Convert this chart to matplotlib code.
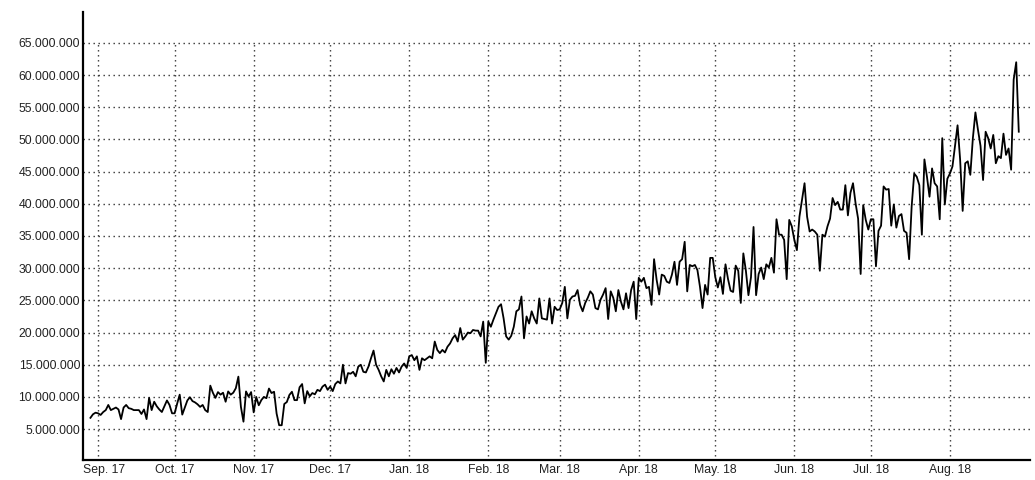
import matplotlib
matplotlib.use("Agg")
import matplotlib.pyplot as plt
import matplotlib.ticker as mticker
import matplotlib.transforms as mtransforms
import pandas as pd

plt.rcParams['font.family'] = ['Liberation Sans', 'DejaVu Sans']

# Daily values in millions
aug17 = [6.75, 7.3, 7.55]
sep17 = [7.45, 7.2, 7.65, 7.95, 8.75, 7.95, 8.15, 8.35, 8.05, 6.55,
         8.35, 8.75, 8.25, 8.15, 7.95, 7.95, 7.95, 7.35, 8.05, 6.55,
         9.85, 7.95, 9.25, 8.55, 8.05, 7.65, 8.55, 9.45, 8.75, 7.45]
oct17 = [7.45, 8.95, 10.35, 7.25, 8.35, 9.45, 9.95, 9.35, 9.15, 8.85,
         8.45, 8.75, 7.95, 7.65, 11.75, 10.65, 9.85, 10.75, 10.35, 10.65,
         9.25, 10.85, 10.35, 10.65, 11.35, 13.15, 8.45, 6.15, 10.85, 10.05,
         10.75]
nov17 = [7.6, 10.0, 8.7, 9.5, 10.0, 9.8, 11.3, 10.6, 10.8, 7.4,
         5.6, 5.6, 8.9, 9.2, 10.3, 10.8, 9.5, 9.5, 11.5, 12.0,
         9.0, 10.9, 10.1, 10.6, 10.4, 11.1, 10.9, 11.6, 11.9, 11.1]
dec17 = [11.6, 10.9, 12.0, 12.4, 12.1, 15.0, 12.1, 13.7, 13.6, 13.9,
         13.2, 14.7, 15.0, 13.9, 13.8, 14.7, 16.0, 17.2, 15.0, 14.2,
         13.2, 12.4, 14.2, 13.2, 14.3, 13.6, 14.5, 13.8, 14.7, 15.2,
         14.5]
jan18 = [16.3, 16.5, 15.7, 16.3, 14.2, 16.0, 15.7, 16.0, 16.3, 16.0,
         18.6, 17.3, 16.8, 17.3, 16.9, 17.8, 18.3, 19.1, 19.6, 18.6,
         20.7, 18.9, 19.4, 20.0, 19.9, 20.4, 20.3, 20.3, 19.4, 21.7,
         15.3]
feb18 = [21.7, 20.9, 22.0, 23.0, 24.0, 24.4, 22.2, 19.4, 18.9, 19.5,
         20.9, 23.3, 23.6, 25.6, 19.1, 22.5, 21.4, 23.3, 22.2, 21.4,
         25.3, 22.2, 22.1, 22.0, 25.3, 21.4, 24.0, 23.5]
mar18 = [23.6, 24.6, 27.1, 22.2, 25.1, 25.6, 25.7, 26.6, 24.3, 23.3,
         24.6, 25.4, 26.4, 25.9, 23.8, 23.6, 25.1, 25.9, 26.9, 22.1,
         26.4, 25.4, 23.3, 26.6, 24.8, 23.6, 26.1, 23.8, 26.6, 27.9,
         22.1]
apr18 = [28.5, 27.9, 28.5, 26.9, 27.1, 24.3, 31.4, 28.2, 25.9, 29.0,
         28.8, 27.9, 27.7, 29.0, 31.0, 27.4, 31.0, 31.4, 34.1, 26.4,
         30.5, 30.3, 30.5, 29.7, 27.1, 23.8, 27.4, 25.9, 31.6, 31.6]
may18 = [28.6, 27.0, 28.6, 26.0, 30.6, 28.3, 26.5, 26.3, 30.4, 29.6,
         24.6, 32.3, 29.6, 25.8, 28.6, 36.4, 25.8, 29.1, 30.1, 28.3,
         30.6, 30.1, 31.6, 29.3, 37.6, 35.2, 35.2, 34.4, 28.3, 37.5,
         36.5]
jun18 = [34.4, 32.8, 38.0, 40.6, 43.2, 38.0, 35.7, 36.0, 35.7, 35.2,
         29.6, 35.2, 34.9, 36.5, 37.7, 40.9, 39.8, 40.3, 39.1, 39.1,
         42.9, 38.2, 41.7, 43.2, 40.1, 37.7, 29.1, 39.8, 37.5, 36.0]
jul18 = [37.6, 37.6, 30.3, 35.8, 36.6, 42.7, 42.2, 42.3, 36.6, 39.9,
         36.3, 38.1, 38.4, 35.8, 35.5, 31.4, 39.6, 44.7, 44.2, 42.9,
         35.2, 46.9, 44.2, 41.1, 45.5, 43.2, 42.7, 37.6, 50.2, 39.9,
         43.9]
aug18 = [44.7, 45.8, 49.0, 52.2, 46.9, 38.9, 46.3, 46.6, 44.5, 50.2,
         54.2, 51.5, 49.0, 43.7, 51.2, 50.2, 48.6, 50.7, 46.3, 47.4,
         47.1, 50.9, 47.6, 48.6, 45.3, 59.3, 62.0, 51.2]

start_date = '2017-08-29'
month_starts = pd.date_range('2017-09-01', '2018-08-01', freq='MS')
month_labels = ['Sep. 17', 'Oct. 17', 'Nov. 17', 'Dec. 17', 'Jan. 18', 'Feb. 18',
                'Mar. 18', 'Apr. 18', 'May. 18', 'Jun. 18', 'Jul. 18', 'Aug. 18']
y_ticks = [5e6 * i for i in range(1, 14)]

values_m = (aug17 + sep17 + oct17 + nov17 + dec17 + jan18 + feb18 + mar18 +
            apr18 + may18 + jun18 + jul18 + aug18)
dates = pd.date_range(start_date, periods=len(values_m), freq='D')
values = [v * 1e6 for v in values_m]

fig = plt.figure(figsize=(10.35, 4.8), dpi=100)
ax = fig.add_axes([0.0802, 0.0417, 0.9148, 0.9333])

# grid
for yv in y_ticks:
    ax.axhline(yv, color='#333333', lw=1.0, ls=(0, (1, 2.6)), zorder=1)
ax.vlines(month_starts, 0, y_ticks[-1], colors='#333333', lw=1.0,
          linestyles=(0, (1, 2.6)), zorder=1)

ax.plot(dates, values, color='black', lw=1.3, zorder=3)

ax.set_xlim(pd.Timestamp('2017-08-26 02:00'), pd.Timestamp('2018-09-01 08:00'))
ax.set_ylim(0.2e6, 69.8e6)

ax.set_yticks(y_ticks)
ax.yaxis.set_major_formatter(mticker.FuncFormatter(lambda v, p: f"{v:,.0f}".replace(',', '.')))
ax.set_xticks(month_starts)
ax.set_xticklabels(month_labels)

ax.tick_params(axis='both', length=0, labelsize=8.8, labelcolor='#222222')
ax.tick_params(axis='y', pad=2)
ax.tick_params(axis='x', pad=3)

# first month label sits clear of the y axis
first = ax.get_xticklabels()[0]
first.set_transform(first.get_transform() +
                    mtransforms.ScaledTranslation(6 / 100, 0, fig.dpi_scale_trans))

for s in ['top', 'right']:
    ax.spines[s].set_visible(False)
for s in ['left', 'bottom']:
    ax.spines[s].set_linewidth(1.6)
    ax.spines[s].set_color('black')

fig.savefig('out.png', dpi=100)
